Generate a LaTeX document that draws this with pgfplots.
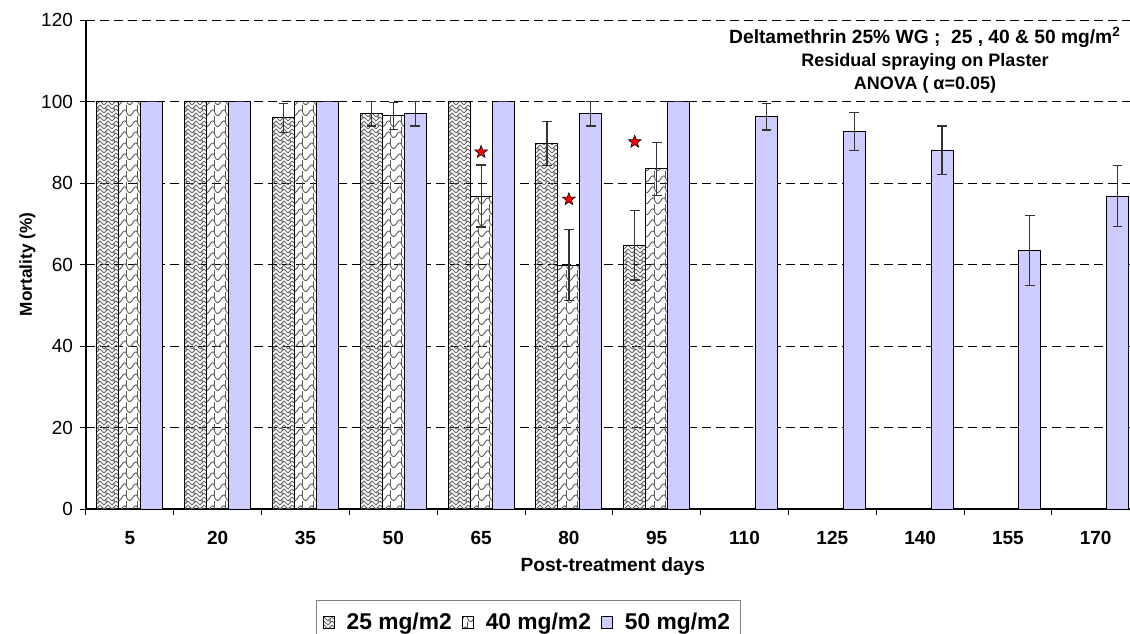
\documentclass[border=0pt]{standalone}
\usepackage{pgfplots}
\pgfplotsset{compat=1.18}
\usepackage{fontspec}
\setmainfont{Liberation Sans}
\usetikzlibrary{patterns}
\definecolor{barblue}{RGB}{204,204,255}

\pgfdeclarepatternformonly{weaveA}{\pgfqpoint{-0.5pt}{-0.5pt}}{\pgfqpoint{4.5pt}{4.5pt}}{\pgfqpoint{4pt}{4pt}}{%
  \pgfsetlinewidth{0.5pt}%
  \pgfpathmoveto{\pgfqpoint{0pt}{0pt}}\pgfpathlineto{\pgfqpoint{2pt}{2pt}}%
  \pgfpathmoveto{\pgfqpoint{0pt}{2pt}}\pgfpathlineto{\pgfqpoint{2pt}{4pt}}%
  \pgfpathmoveto{\pgfqpoint{2pt}{2pt}}\pgfpathlineto{\pgfqpoint{4pt}{0pt}}%
  \pgfpathmoveto{\pgfqpoint{2pt}{4pt}}\pgfpathlineto{\pgfqpoint{4pt}{2pt}}%
  \pgfpathmoveto{\pgfqpoint{1pt}{1pt}}\pgfpathlineto{\pgfqpoint{1pt}{3pt}}%
  \pgfusepath{stroke}%
}
\pgfdeclarepatternformonly{shingle}{\pgfqpoint{-0.5pt}{-0.5pt}}{\pgfqpoint{6pt}{6pt}}{\pgfqpoint{5.5pt}{5.5pt}}{%
  \pgfsetlinewidth{0.45pt}%
  \pgfpathmoveto{\pgfqpoint{0pt}{1pt}}%
  \pgfpathcurveto{\pgfqpoint{1.2pt}{3.5pt}}{\pgfqpoint{2.5pt}{3.5pt}}{\pgfqpoint{2.75pt}{2.2pt}}%
  \pgfpathcurveto{\pgfqpoint{3pt}{1pt}}{\pgfqpoint{4.2pt}{-1pt}}{\pgfqpoint{5.5pt}{1pt}}%
  \pgfpathmoveto{\pgfqpoint{2.75pt}{2.2pt}}%
  \pgfpathlineto{\pgfqpoint{2.75pt}{5.5pt}}%
  \pgfusepath{stroke}%
}

\pgfdeclareplotmark{fstar}{%
  \pgfpathmoveto{\pgfpointpolar{90}{\pgfplotmarksize}}%
  \pgfpathlineto{\pgfpointpolar{126}{0.42\pgfplotmarksize}}%
  \pgfpathlineto{\pgfpointpolar{162}{\pgfplotmarksize}}%
  \pgfpathlineto{\pgfpointpolar{198}{0.42\pgfplotmarksize}}%
  \pgfpathlineto{\pgfpointpolar{234}{\pgfplotmarksize}}%
  \pgfpathlineto{\pgfpointpolar{270}{0.42\pgfplotmarksize}}%
  \pgfpathlineto{\pgfpointpolar{306}{\pgfplotmarksize}}%
  \pgfpathlineto{\pgfpointpolar{342}{0.42\pgfplotmarksize}}%
  \pgfpathlineto{\pgfpointpolar{18}{\pgfplotmarksize}}%
  \pgfpathlineto{\pgfpointpolar{54}{0.42\pgfplotmarksize}}%
  \pgfpathclose
  \pgfusepathqfillstroke
}

\pgfplotsset{sqlegend/.style={legend image code/.code={\draw[##1, line width=0.4pt] (0pt,-2.8pt) rectangle (5.6pt,2.8pt);}}}

\begin{document}
\begin{tikzpicture}
\begin{axis}[
  scale only axis,
  width=526.8pt, height=244.5pt,
  xmin=-0.5, xmax=11.5, ymin=0, ymax=120,
  axis x line=bottom, axis y line=left,
  axis line style={-, line width=0.7pt, black},
  xtick={0,...,11},
  xticklabels={5,20,35,50,65,80,95,110,125,140,155,170},
  minor xtick={-0.5,0.5,...,11.5},
  every major x tick/.append style={draw=none},
  tick align=outside,
  major tick length=3pt, minor tick length=3pt,
  tick style={black, line width=0.5pt},
  ytick={0,20,...,120},
  ymajorgrids,
  major grid style={black, line width=0.5pt, dash pattern=on 4.5pt off 2.5pt},
  /pgf/number format/assume math mode=true,
  every x tick label/.append style={font=\bfseries\fontsize{9.5}{11}\selectfont, anchor=center, yshift=-11.5pt},
  every y tick label/.append style={font=\fontsize{9.5}{11}\selectfont},
  xlabel={Post-treatment days},
  every axis x label/.style={at={(axis description cs:0.5,-0.1186)}, anchor=center, font=\bfseries\fontsize{9.6}{11}\selectfont},
  ylabel={Mortality (\%)},
  every axis y label/.style={at={(axis description cs:-0.0555,0.5)}, rotate=90, anchor=center, font=\bfseries\fontsize{8.6}{10}\selectfont},
  legend columns=-1,
  legend style={at={(axis description cs:0.2183,-0.1861)}, anchor=north west, draw=gray, line width=0.6pt,
    font=\bfseries\fontsize{11.4}{13}\selectfont, inner xsep=3pt, inner ysep=4pt,
    /tikz/every odd column/.append style={column sep=4pt},
    /tikz/every even column/.append style={column sep=3pt}},
  error bars/error bar style={line width=0.6pt, black!80},
  error bars/error mark options={rotate=90, mark size=2.4pt, line width=0.6pt, black!80},
]
\addplot[ybar, bar width=0.25, bar shift=0, draw=black, line width=0.5pt,
  pattern=weaveA, pattern color=black!60, sqlegend,
  error bars/.cd, y dir=both, y explicit]
  coordinates {(-0.25,100) +- (0,0) (0.75,100) +- (0,0) (1.75,96) +- (0,3.6) (2.75,97) +- (0,3)
               (3.75,100) +- (0,0) (4.75,89.6) +- (0,5.4) (5.75,64.7) +- (0,8.5)};
\addlegendentry{25 mg/m2}
\addplot[ybar, bar width=0.25, bar shift=0, draw=black, line width=0.5pt,
  pattern=shingle, pattern color=black!65, sqlegend,
  error bars/.cd, y dir=both, y explicit]
  coordinates {(0,100) +- (0,0) (1,100) +- (0,0) (2,100) +- (0,0) (3,96.5) +- (0,3.3)
               (4,76.8) +- (0,7.6) (5,59.8) +- (0,8.7) (6,83.5) +- (0,6.5)};
\addlegendentry{40 mg/m2}
\addplot[ybar, bar width=0.25, bar shift=0, draw=black, line width=0.5pt,
  fill=barblue, sqlegend,
  error bars/.cd, y dir=both, y explicit]
  coordinates {(0.25,100) +- (0,0) (1.25,100) +- (0,0) (2.25,100) +- (0,0) (3.25,97) +- (0,3)
               (4.25,100) +- (0,0) (5.25,97) +- (0,3) (6.25,100) +- (0,0) (7.25,96.3) +- (0,3.3)
               (8.25,92.7) +- (0,4.65) (9.25,88) +- (0,6) (10.25,63.4) +- (0,8.6) (11.25,76.8) +- (0,7.4)};
\addlegendentry{50 mg/m2}
\addplot[only marks, mark=fstar, mark size=3.3pt, mark options={fill=red, draw=black, line width=0.3pt}, forget plot]
  coordinates {(4,87.6) (5,76) (5.75,90.1)};
\node[align=center, font=\bfseries\fontsize{9}{11.5}\selectfont, anchor=center]
  at (rel axis cs:0.7963,0.918)
  {{\fontsize{9.6}{11.5}\selectfont Deltamethrin 25\% WG ;\ \ 25 , 40 \& 50 mg/m\textsuperscript{2}}\\Residual spraying on Plaster\\ANOVA ( α=0.05)};
\end{axis}
\pgfresetboundingbox
\useasboundingbox (-43pt,-62pt) rectangle (522pt,254.5pt);
\end{tikzpicture}
\end{document}
